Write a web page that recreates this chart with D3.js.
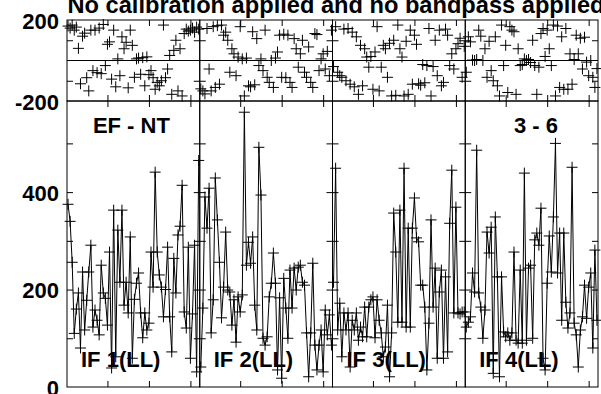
<!DOCTYPE html>
<html lang="en">
<head>
<meta charset="utf-8">
<title>No calibration applied and no bandpass applied</title>
<script src="https://cdn.jsdelivr.net/npm/d3@7/dist/d3.min.js"></script>
<style>
  body { margin: 0; background: #fff; }
  .lbl { font-family: "Liberation Sans", Arial, sans-serif; font-weight: bold; font-size: 22px; fill: #000; }
  .title { font-family: "Liberation Sans", Arial, sans-serif; font-weight: bold; font-size: 23px; fill: #000; }
</style>
</head>
<body>
<script>
// channels 1..64 per IF
var channels = d3.range(1, 65);
var ifLabels = ["IF 1(LL)", "IF 2(LL)", "IF 3(LL)", "IF 4(LL)"];
var ampTicks = [100, 200, 300, 400, 500];
var ampLabels = [0, 200, 400];
var phaseLabels = [200, -200];
var phaseTicks = [-100, 100];
var chanTicks = [20, 40, 60];

var amp1 = [375, 340, 256, 110, 160, 193, 80, 236, 117, 178, 236, 291, 123, 158, 137, 107, 250, 193, 182, 127,
            277, 39, 363, 62, 322, 215, 363, 168, 215, 152, 308, 59, 180, 213, 234, 152, 101, 152, 117, 131,
            277, 205, 441, 277, 230, 205, 144, 200, 287, 144, 72, 264, 193, 312, 330, 414, 154, 121, 287, 59,
            150, 291, 31, 465];
var amp2 = [41, 162, 390, 326, 408, 111, 179, 429, 343, 256, 142, 205, 318, 199, 195, 127, 179, 92, 185, 154,
            189, 564, 250, 297, 254, 308, 168, 117, 492, 394, 100, 86, 103, 185, 213, 275, 213, 35, 183, 18,
            223, 162, 100, 240, 162, 244, 199, 246, 250, 215, 209, 111, 21, 111, 254, 86, 35, 86, 117, 31,
            158, 107, 148, 86];
var amp3 = [215, 449, 117, 172, 62, 152, 117, 152, 41, 137, 117, 152, 96, 123, 103, 164, 103, 164, 179, 185,
            101, 179, 137, 111, 62, 82, 168, 21, 111, 357, 277, 133, 363, 133, 449, 123, 326, 123, 326, 388,
            306, 298, 209, 209, 164, 35, 131, 343, 164, 244, 59, 195, 240, 59, 226, 72, 336, 445, 152, 369,
            152, 150, 154, 154];
var amp4 = [123, 133, 144, 234, 195, 486, 193, 164, 100, 158, 318, 275, 328, 28, 349, 226, 21, 226, 113, 103,
            111, 96, 111, 277, 96, 90, 240, 90, 439, 96, 244, 250, 100, 302, 316, 291, 367, 59, 35, 213,
            310, 236, 349, 500, 234, 316, 137, 316, 174, 121, 152, 451, 131, 107, 41, 117, 144, 209, 141, 205,
            234, 80, 281, 137];

var ph1 = [170, 160, 175, 150, 165, 60, -115, 120, 135, -85, -150, 150, -50, 150, -60, 160, -65, 178, -25, 80,
           92, -92, 150, -130, 8, -75, 117, 58, 90, -135, 150, 75, -83, 8, 12, -68, 14, -125, 18, -70,
           -50, -85, -142, -108, -125, -100, 175, -85, -42, 25, -167, 50, 100, -150, 58, -175, 133, 155, 145, 150,
           160, 140, 165, 155];
var ph2 = [-140, -150, -165, 158, -42, -150, 167, -133, 172, -117, 175, 125, 140, 100, -58, 58, 33, -75, 17, 167,
           8, -175, 12, -125, -130, 142, -120, 108, -25, 8, -50, 150, -83, -108, 0, -133, 12, 42, 125, -83,
           130, -85, 125, -108, -133, 108, 58, -33, 33, 100, -58, -83, 67, -108, -133, 133, 128, -50, 8, 33,
           -42, 45, -75, 150];
var ph3 = [-30, 167, -58, -75, -83, 155, -100, 158, -117, 140, -130, 117, -167, 75, -125, 58, 17, -33, 20, -142,
           42, 167, -150, -33, 75, 58, -83, 85, -175, 100, -172, 175, 58, 17, -175, 95, -167, 150, -117, 125,
           80, -115, -122, -20, -110, -25, 158, -175, -30, 100, -75, 150, -125, -108, 155, 125, -25, 33, -42, 58,
           83, 110, -83, 70];
var ph4 = [-58, 117, 92, 2, 0, 5, 150, 120, 0, 58, -83, 95, -50, -100, 117, -125, -175, 175, -25, 75,
           -158, 167, 150, 142, -167, 58, -25, -20, 8, 0, 5, -10, 100, -25, -167, -33, 133, 158, 20, 150,
           58, -25, 175, -175, 170, -133, 117, -142, 158, -142, 33, -117, 5, 125, 33, 110, -42, 115, -8, -75,
           0, -83, -133, -40];

var amps = [amp1, amp2, amp3, amp4];
var phases = [ph1, ph2, ph3, ph4];

var w = 601, h = 394;
var x0 = 67, x1 = 598;
var pw = (x1 - x0) / 4;
var yTop = 20, yMid = 101, yBot = 387;
var tk = 6;   // inward tick length
var cs = 5.5; // half size of the + marker

var svg = d3.select("body").append("svg").attr("width", w).attr("height", h);

var yAmp = d3.scaleLinear().domain([0, 587]).range([yBot, yMid]);
var yPh = d3.scaleLinear().domain([-200, 200]).range([yMid, yTop]);

var cross = "M" + (-cs) + ",0H" + cs + "M0," + (-cs) + "V" + cs;

// title
svg.append("text").attr("class", "title")
   .attr("x", 336).attr("y", 13)
   .attr("text-anchor", "middle")
   .attr("textLength", 537).attr("lengthAdjust", "spacingAndGlyphs")
   .text("No calibration applied and no bandpass applied");

// y labels
svg.selectAll(".phl").data(phaseLabels).enter().append("text")
   .attr("class", "lbl").attr("text-anchor", "end")
   .attr("x", 59).attr("y", function(d) { return yPh(d) + 8.5; })
   .text(function(d) { return d; });
svg.selectAll(".aml").data(ampLabels).enter().append("text")
   .attr("class", "lbl").attr("text-anchor", "end")
   .attr("x", 59).attr("y", function(d) { return yAmp(d) + 8.5; })
   .text(function(d) { return d; });

for (var i = 0; i < 4; i++) {
    var left = x0 + i * pw, right = left + pw;
    var x = d3.scaleLinear().domain([0.5, 64.5]).range([left, right]);
    var g = svg.append("g");

    // ticks, all pointing inward
    g.append("g").attr("transform", "translate(0," + yBot + ")")
       .call(d3.axisBottom(x).tickValues(chanTicks).tickSize(-tk).tickFormat(""));
    g.append("g").attr("transform", "translate(0," + yMid + ")")
       .call(d3.axisTop(x).tickValues(chanTicks).tickSize(-tk).tickFormat(""));
    g.append("g").attr("transform", "translate(0," + yMid + ")")
       .call(d3.axisBottom(x).tickValues(chanTicks).tickSize(-tk).tickFormat(""));
    g.append("g").attr("transform", "translate(0," + yTop + ")")
       .call(d3.axisTop(x).tickValues(chanTicks).tickSize(-tk).tickFormat(""));
    g.append("g").attr("transform", "translate(" + left + ",0)")
       .call(d3.axisLeft(yAmp).tickValues(ampTicks).tickSize(-tk).tickFormat(""));
    g.append("g").attr("transform", "translate(" + right + ",0)")
       .call(d3.axisRight(yAmp).tickValues(ampTicks).tickSize(-tk).tickFormat(""));
    g.append("g").attr("transform", "translate(" + left + ",0)")
       .call(d3.axisLeft(yPh).tickValues(phaseTicks).tickSize(-tk).tickFormat(""));
    g.append("g").attr("transform", "translate(" + right + ",0)")
       .call(d3.axisRight(yPh).tickValues(phaseTicks).tickSize(-tk).tickFormat(""));
    g.selectAll(".domain").remove();
    g.selectAll(".tick line").attr("stroke", "#000");

    // frames
    g.append("rect").attr("x", left).attr("y", yTop).attr("width", pw).attr("height", yMid - yTop)
       .attr("fill", "none").attr("stroke", "#000");
    g.append("rect").attr("x", left).attr("y", yMid).attr("width", pw).attr("height", yBot - yMid)
       .attr("fill", "none").attr("stroke", "#000");
    g.append("line").attr("x1", left).attr("x2", right)
       .attr("y1", yPh(0)).attr("y2", yPh(0)).attr("stroke", "#000");

    // phase points
    g.selectAll(".pp").data(phases[i]).enter().append("path")
       .attr("d", cross).attr("stroke", "#000").attr("fill", "none")
       .attr("transform", function(d, j) { return "translate(" + x(channels[j]) + "," + yPh(d) + ")"; });

    // amplitude line + points
    var line = d3.line().x(function(d, j) { return x(channels[j]); })
                        .y(function(d) { return yAmp(d); });
    g.append("path").datum(amps[i]).attr("d", line)
       .attr("fill", "none").attr("stroke", "#000").attr("stroke-width", 1);
    g.selectAll(".ap").data(amps[i]).enter().append("path")
       .attr("d", cross).attr("stroke", "#000").attr("fill", "none")
       .attr("transform", function(d, j) { return "translate(" + x(channels[j]) + "," + yAmp(d) + ")"; });

    g.append("text").attr("class", "lbl")
       .attr("x", left + 14).attr("y", 367)
       .text(ifLabels[i]);
}

svg.append("text").attr("class", "lbl").attr("text-anchor", "middle")
   .attr("x", x0 + pw / 2 - 2).attr("y", 133).text("EF - NT");
svg.append("text").attr("class", "lbl").attr("text-anchor", "middle")
   .attr("x", 536).attr("y", 133).text("3 - 6");
</script>
</body>
</html>
